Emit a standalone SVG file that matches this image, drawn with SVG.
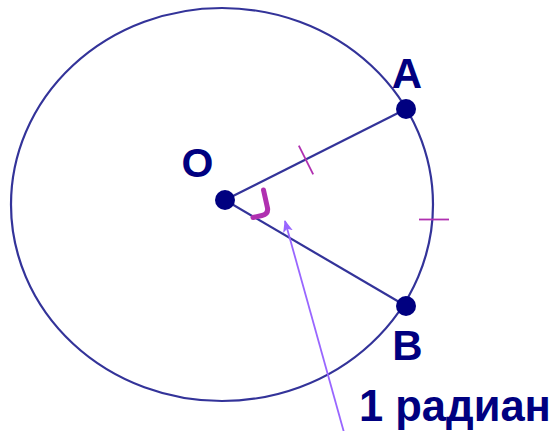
<svg xmlns="http://www.w3.org/2000/svg" width="552" height="431" viewBox="0 0 552 431">
<defs>
<style>
.ln{stroke:#333399;stroke-width:2.2;fill:none}
.dot{fill:#000080}
.lbl{font-family:"Liberation Sans",Arial,sans-serif;font-weight:bold;fill:#000080}
.tick{stroke:#B030B0;stroke-width:1.8;fill:none}
.ptr{stroke:#9966FF;stroke-width:1.8;fill:none}
</style>
<marker id="ah" viewBox="0 0 12 10" refX="11" refY="5" markerWidth="12" markerHeight="10" markerUnits="userSpaceOnUse" orient="auto">
<path d="M0,0 L12,5 L0,10 L3,5 Z" fill="#9966FF"/>
</marker>
</defs>
<rect width="552" height="431" fill="#FFFFFF"/>
<g id="connectors">
<ellipse class="ln" cx="222" cy="204.5" rx="211" ry="196.5"/>
<line class="ln" x1="225" y1="200" x2="406" y2="109"/>
<line class="ln" x1="225" y1="200" x2="406" y2="306"/>
<line class="tick" x1="298.8" y1="145.7" x2="313.2" y2="174.3"/>
<line class="tick" x1="419" y1="219.5" x2="449" y2="219.5"/>
<path d="M263.5,190 L267.5,208 Q268.5,214 262,215.5 L253,217.5" stroke="#B030B0" stroke-width="5" fill="none" stroke-linecap="round" stroke-linejoin="round"/>
<line class="ptr" x1="345" y1="436" x2="285" y2="221" marker-end="url(#ah)"/>
</g>
<g id="node-O">
<circle class="dot" cx="225" cy="200" r="10"/>
<text class="lbl" x="197.5" y="177" font-size="41" text-anchor="middle">O</text>
</g>
<g id="node-A">
<circle class="dot" cx="406" cy="109" r="10"/>
<text class="lbl" x="407" y="88" font-size="42" text-anchor="middle">A</text>
</g>
<g id="node-B">
<circle class="dot" cx="406" cy="306" r="10"/>
<text class="lbl" x="407.5" y="360" font-size="42" text-anchor="middle">B</text>
</g>
<g id="label">
<text class="lbl" x="359" y="421" font-size="43.5">1 радиан</text>
</g>
</svg>
